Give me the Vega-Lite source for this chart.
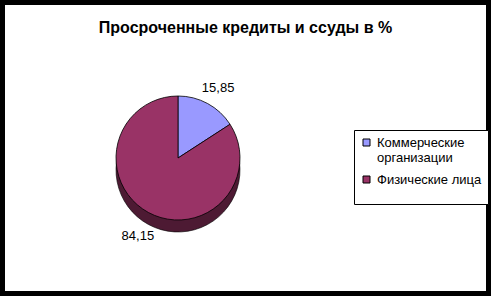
{
  "$schema": "https://vega.github.io/schema/vega-lite/v6.json",
  "width": 481,
  "height": 286,
  "padding": 5,
  "autosize": {"type": "none"},
  "background": "black",
  "view": {"stroke": null, "fill": "white", "cornerRadius": 0},
  "config": {
    "view": {"stroke": null, "fill": "white", "cornerRadius": 0},
    "font": "Liberation Sans",
    "locale": {"number": {"decimal": ",", "thousands": " ", "grouping": [3], "currency": ["", ""]}}
  },
  "title": {
    "text": "Просроченные кредиты и ссуды в %",
    "fontSize": 16,
    "fontWeight": "bold",
    "font": "Liberation Sans",
    "color": "black",
    "anchor": "middle",
    "frame": "group",
    "offset": -31
  },
  "data": {
    "values": [
      {"category": "Коммерческие организации", "value": 15.85, "order": 1},
      {"category": "Физические лица", "value": 84.15, "order": 2}
    ]
  },
  "layer": [
    {
      "mark": {"type": "arc", "radius": 62, "x": 173, "y": 165, "color": "#4d1a33", "stroke": "black", "strokeWidth": 0.6},
      "encoding": {
        "theta": {"field": "value", "type": "quantitative", "stack": true},
        "order": {"field": "order", "type": "quantitative"}
      }
    },
    {
      "mark": {"type": "arc", "radius": 62, "x": 173, "y": 153, "stroke": "black", "strokeWidth": 0.8},
      "encoding": {
        "theta": {"field": "value", "type": "quantitative", "stack": true},
        "order": {"field": "order", "type": "quantitative"},
        "color": {
          "field": "category",
          "type": "nominal",
          "scale": {"domain": ["Коммерческие организации", "Физические лица"], "range": ["#9999ff", "#993366"]},
          "legend": {
            "orient": "none",
            "legendX": 349,
            "legendY": 125,
            "title": " ",
            "titleOrient": "bottom",
            "titleFontSize": 12,
            "titlePadding": 0,
            "strokeColor": "black",
            "fillColor": "white",
            "padding": 6,
            "rowPadding": 8,
            "labelFontSize": 13,
            "labelFont": "Liberation Sans",
            "labelColor": "black",
            "labelLimit": 200,
            "labelExpr": "datum.label == 'Коммерческие организации' ? ['Коммерческие', 'организации'] : datum.label",
            "symbolType": "square",
            "symbolSize": 49,
            "symbolStrokeColor": "black",
            "symbolStrokeWidth": 1,
            "symbolOpacity": 1
          }
        }
      }
    },
    {
      "mark": {"type": "text", "radius": 84, "x": 173, "y": 157, "fontSize": 13, "font": "Liberation Sans", "color": "black"},
      "encoding": {
        "theta": {"field": "value", "type": "quantitative", "stack": true},
        "order": {"field": "order", "type": "quantitative"},
        "text": {"field": "value", "type": "quantitative", "format": ".2f"}
      }
    }
  ]
}
